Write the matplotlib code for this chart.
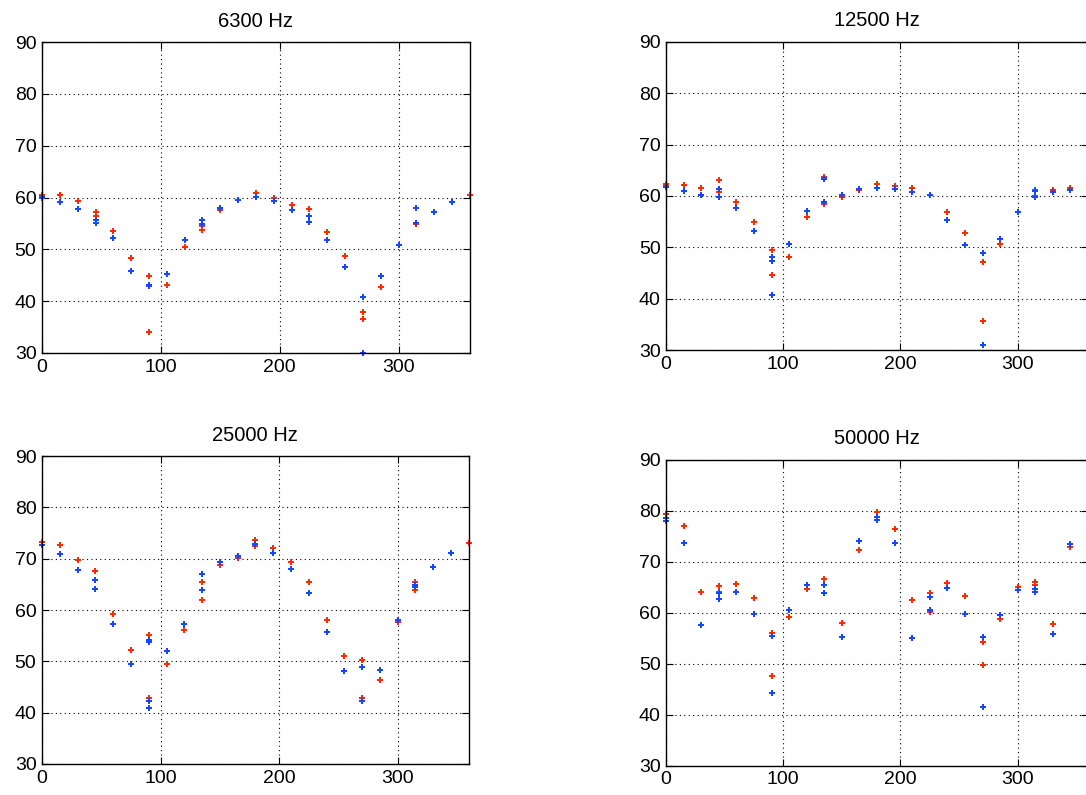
import matplotlib
matplotlib.use("Agg")
import matplotlib.pyplot as plt

plt.rcParams['font.family'] = ['Liberation Sans', 'DejaVu Sans']

# 6300 Hz
ang_6300_r = [0, 15, 30, 45, 45, 60, 75, 90, 90, 105, 120, 135, 135, 150, 165, 180, 195, 210,
              225, 240, 255, 270, 270, 285, 300, 315, 330, 345, 360]
val_6300_r = [60.4, 60.4, 59.3, 57.3, 56.4, 53.5, 48.3, 44.8, 34.0, 43.1, 50.4, 54.6, 53.7, 57.6, 59.6,
              60.9, 60.0, 58.5, 57.7, 53.3, 48.7, 38.0, 36.5, 42.7, 50.8, 54.8, 57.3, 59.2, 60.4]
ang_6300_b = [0, 0, 15, 30, 45, 45, 60, 75, 90, 90, 105, 120, 135, 135, 150, 165, 180, 195, 210,
              225, 225, 240, 255, 270, 270, 285, 300, 315, 315, 330, 345]
val_6300_b = [59.9, 60.1, 59.1, 57.8, 55.6, 55.1, 52.1, 45.9, 43.1, 43.0, 45.2, 51.9, 55.6, 54.8, 58.0,
              59.6, 60.2, 59.3, 57.6, 56.5, 55.2, 51.9, 46.6, 40.9, 30.0, 44.8, 50.8, 58.0, 55.0, 57.3, 59.2]

# 12500 Hz
ang_12500_r = [0, 0, 15, 30, 45, 45, 60, 75, 90, 90, 105, 120, 135, 135, 150, 165, 180, 195, 210,
               225, 240, 255, 270, 270, 285, 315, 315, 330, 345]
val_12500_r = [62.3, 62.0, 62.2, 61.6, 63.0, 60.7, 58.9, 55.0, 49.4, 44.7, 48.2, 55.9, 63.7, 58.5, 59.8,
               61.2, 62.4, 62.0, 61.6, 60.2, 56.8, 52.7, 47.1, 35.6, 50.6, 61.1, 60.0, 61.1, 61.6]
ang_12500_b = [0, 15, 30, 45, 45, 60, 75, 90, 90, 90, 105, 120, 135, 135, 150, 165, 180, 195, 210,
               225, 240, 255, 270, 270, 285, 300, 315, 315, 330, 345]
val_12500_b = [61.8, 60.9, 60.1, 61.3, 59.7, 57.6, 53.1, 48.2, 47.3, 40.8, 50.6, 57.0, 63.2, 58.9, 60.1,
               61.3, 61.6, 61.3, 60.7, 60.1, 55.4, 50.4, 48.9, 31.0, 51.7, 56.8, 60.9, 59.8, 60.7, 61.2]

# 25000 Hz
ang_25000_r = [0, 15, 30, 45, 45, 60, 75, 90, 90, 105, 120, 135, 135, 150, 165, 180, 180, 195, 210,
               225, 240, 255, 270, 270, 285, 300, 315, 315, 360]
val_25000_r = [73.3, 72.6, 69.7, 67.6, 65.9, 59.2, 52.2, 55.1, 42.9, 49.5, 56.1, 65.4, 61.9, 68.8, 70.2,
               73.7, 72.4, 72.0, 69.3, 65.5, 58.0, 51.0, 50.3, 42.9, 46.4, 57.6, 65.4, 63.8, 73.0]
ang_25000_b = [0, 15, 30, 45, 45, 60, 75, 90, 90, 90, 90, 105, 120, 135, 135, 150, 165, 180, 195, 210,
               225, 240, 255, 270, 270, 285, 300, 315, 315, 330, 345]
val_25000_b = [72.7, 70.9, 67.8, 65.8, 64.1, 57.3, 49.5, 54.2, 53.7, 42.3, 40.9, 52.0, 57.2, 67.0, 63.9,
               69.3, 70.6, 72.8, 71.1, 68.0, 63.4, 55.7, 48.1, 48.9, 42.3, 48.3, 58.1, 64.8, 64.5, 68.4, 71.1]

# 50000 Hz
ang_50000_r = [0, 15, 30, 45, 45, 60, 75, 90, 90, 105, 120, 135, 150, 165, 180, 195, 210,
               225, 225, 240, 255, 270, 270, 285, 300, 315, 315, 330, 345]
val_50000_r = [79.3, 76.9, 64.1, 65.3, 64.1, 65.7, 62.8, 56.0, 47.5, 59.1, 64.6, 66.5, 58.0, 72.3,
               79.8, 76.4, 62.4, 63.9, 60.1, 65.9, 63.3, 54.3, 49.7, 58.7, 65.1, 66.0, 65.5, 57.8, 72.9]
ang_50000_b = [0, 0, 15, 30, 45, 45, 60, 75, 90, 90, 105, 120, 135, 135, 150, 165, 180, 180, 195, 210,
               225, 225, 240, 255, 270, 270, 285, 300, 315, 315, 330, 345]
val_50000_b = [78.5, 78.0, 73.7, 57.6, 63.9, 62.7, 64.1, 59.7, 55.4, 44.3, 60.5, 65.4, 65.5, 63.9, 55.2,
               74.0, 78.8, 78.1, 73.6, 55.0, 63.0, 60.6, 64.8, 59.7, 55.2, 41.5, 59.5, 64.4, 64.6, 64.1,
               55.8, 73.5]

titles = ['6300 Hz', '12500 Hz', '25000 Hz', '50000 Hz']
panels = [
    (ang_6300_r, val_6300_r, ang_6300_b, val_6300_b),
    (ang_12500_r, val_12500_r, ang_12500_b, val_12500_b),
    (ang_25000_r, val_25000_r, ang_25000_b, val_25000_b),
    (ang_50000_r, val_50000_r, ang_50000_b, val_50000_b),
]
# axes boxes in figure fractions
boxes = [
    [0.0387, 0.556, 0.394, 0.391],
    [0.6133, 0.5597, 0.3886, 0.3878],
    [0.0387, 0.039, 0.393, 0.3874],
    [0.6133, 0.0369, 0.3886, 0.385],
]

fig = plt.figure(figsize=(10.86, 7.95), dpi=100)

for box, title, (ar, vr, ab, vb) in zip(boxes, titles, panels):
    ax = fig.add_axes(box)
    ax.plot(ar, vr, linestyle='None', marker='P', markersize=5, markeredgewidth=0,
            color='#ff2a00', clip_on=False)
    ax.plot(ab, vb, linestyle='None', marker='P', markersize=5, markeredgewidth=0,
            color='#1447ff', clip_on=False)
    ax.set_xlim(0, 360)
    ax.set_ylim(30, 90)
    ax.set_xticks([0, 100, 200, 300])
    ax.set_yticks([30, 40, 50, 60, 70, 80, 90])
    ax.grid(True, color='black', linestyle=(0, (1, 3)), linewidth=0.8)
    ax.tick_params(direction='in', top=True, right=True, length=5, width=0.8,
                   labelsize=14, pad=4)
    for s in ax.spines.values():
        s.set_linewidth(1.0)
    ax.set_title(title, fontsize=14.5, pad=11)

fig.savefig('out.png', dpi=100)
